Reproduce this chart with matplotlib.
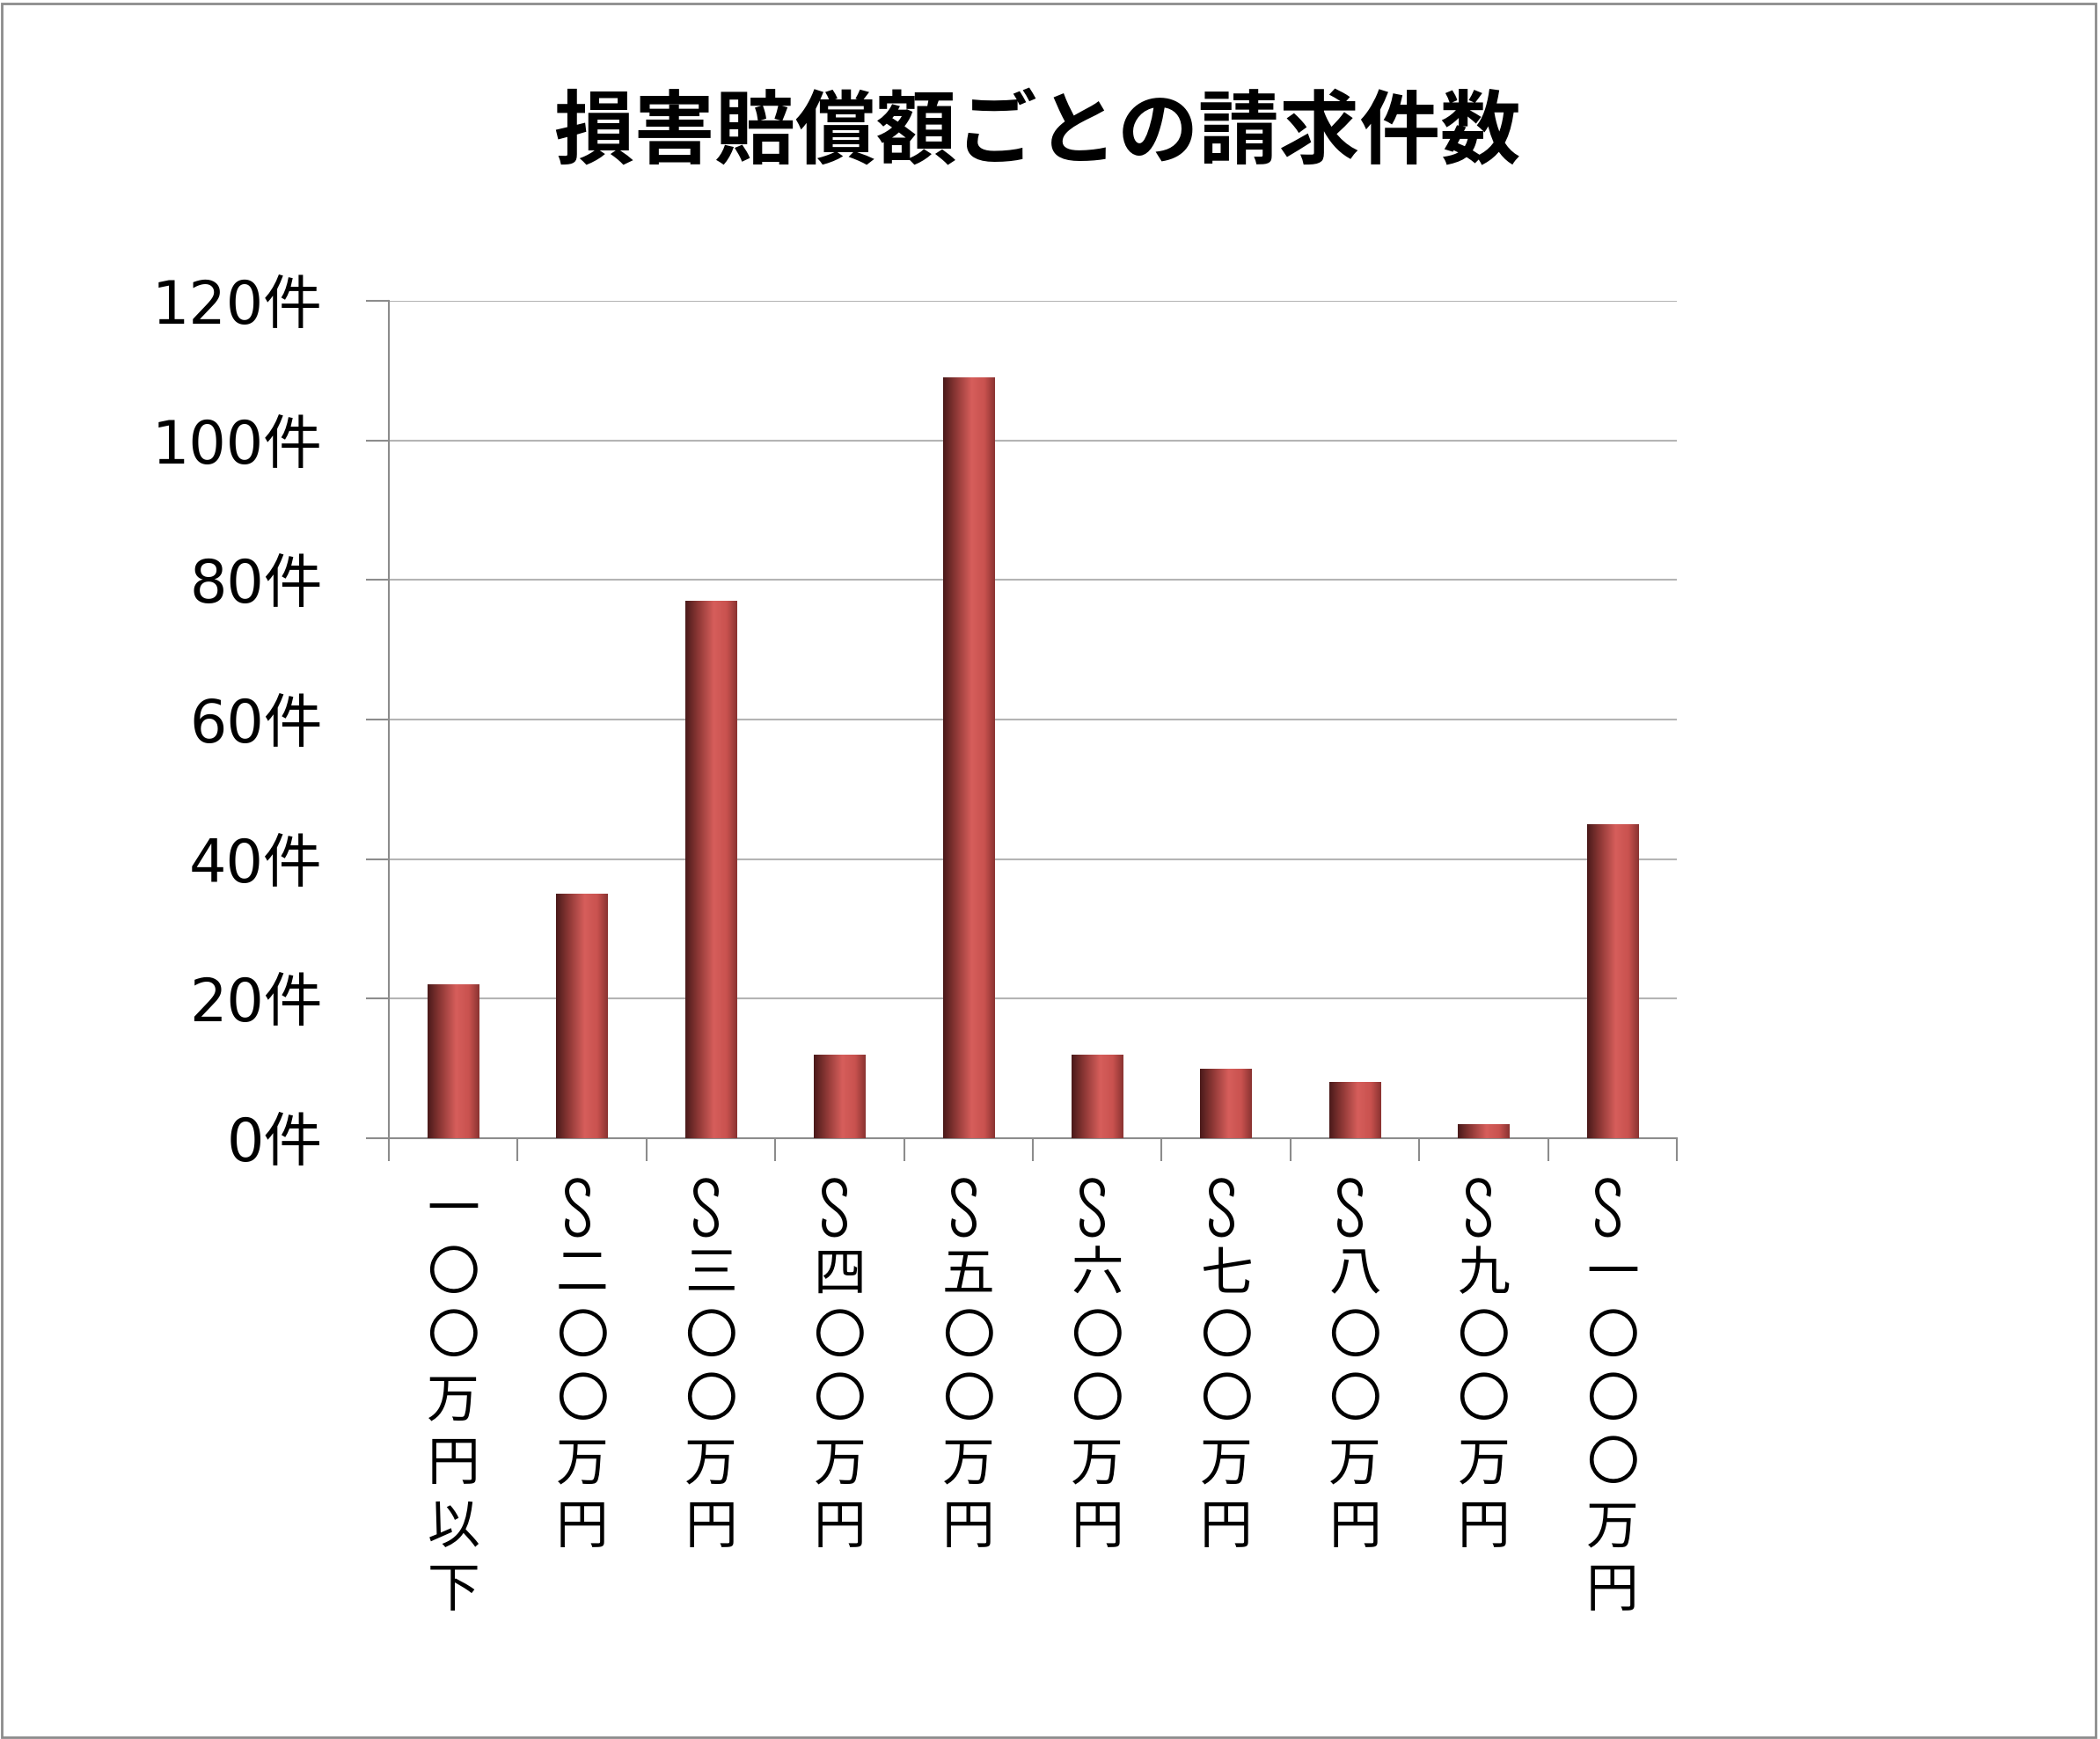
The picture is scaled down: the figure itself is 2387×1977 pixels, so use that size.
import numpy as np
import matplotlib.pyplot as plt
from matplotlib.colors import LinearSegmentedColormap
from matplotlib.patches import Rectangle

# data
title = '損害賠償額ごとの請求件数'
categories = ['一〇〇万円以下', '∽二〇〇万円', '∽三〇〇万円', '∽四〇〇万円', '∽五〇〇万円',
              '∽六〇〇万円', '∽七〇〇万円', '∽八〇〇万円', '∽九〇〇万円', '∽一〇〇〇万円']
counts = [22, 35, 77, 12, 109, 12, 10, 8, 2, 45]
yticks = [0, 20, 40, 60, 80, 100, 120]
ylabels = [f'{v}件' for v in yticks]

jp = ['Noto Sans CJK JP', 'DejaVu Sans']
num = ['DejaVu Sans', 'Noto Sans CJK JP']

fig = plt.figure(figsize=(23.87, 19.77), dpi=100)
ax = fig.add_axes([0.1852, 0.3455, 0.6133, 0.4815])

x = np.arange(len(counts))
bars = ax.bar(x, counts, width=0.4, color='#c0504d', edgecolor='none', zorder=2)

# cylinder-like horizontal shading
cmap = LinearSegmentedColormap.from_list('bar', [
    (0.0, '#4a1a1a'), (0.25, '#8e3836'), (0.55, '#d65e5b'),
    (0.8, '#c9524f'), (1.0, '#8a3331')])
grad = np.linspace(0, 1, 256).reshape(1, -1)
for b in bars:
    x0, w, h = b.get_x(), b.get_width(), b.get_height()
    im = ax.imshow(grad, extent=(x0, x0 + w, 0, h), aspect='auto', cmap=cmap,
                   zorder=3, interpolation='bilinear')
    im.set_clip_path(b)

ax.set_xlim(-0.5, len(counts) - 0.5)
ax.set_ylim(0, 120)
ax.set_aspect('auto')

ax.set_yticks(yticks)
ax.set_yticklabels(ylabels, fontsize=48, family=num)
ax.set_xticks(np.arange(-0.5, len(counts), 1))
ax.set_xticklabels([])
ax.tick_params(axis='y', direction='out', length=18.5, width=1.5, color='#8c8c8c', pad=36)
ax.tick_params(axis='x', direction='out', length=18.5, width=1.5, color='#8c8c8c')
ax.yaxis.grid(True, color='#b4b4b4', linewidth=1.5, zorder=0)
ax.set_axisbelow(True)
for s in ['top', 'right']:
    ax.spines[s].set_visible(False)
for s in ['left', 'bottom']:
    ax.spines[s].set_color('#8c8c8c')
    ax.spines[s].set_linewidth(1.5)

# vertical category labels, one character per row
for i, lab in enumerate(categories):
    for k, ch in enumerate(lab):
        wave = ch == '∽'
        dy = 84 + 72 * k - (8 if wave else 0)
        ax.annotate(ch, xy=(i, 0), xycoords=('data', 'axes fraction'),
                    xytext=(0, -dy * 0.72), textcoords='offset points',
                    ha='center', va='center', fontsize=52 if wave else 43, family=jp,
                    rotation=90 if wave else 0)

fig.text(0.494, 1 - 152 / 1977, title, fontsize=66, fontweight='bold',
         family=jp, ha='center', va='center')

fig.patches.append(Rectangle((0.001, 0.001), 0.997, 0.997, transform=fig.transFigure,
                             fill=False, edgecolor='#8c8c8c', linewidth=2))

fig.savefig('out.png', dpi=100)
